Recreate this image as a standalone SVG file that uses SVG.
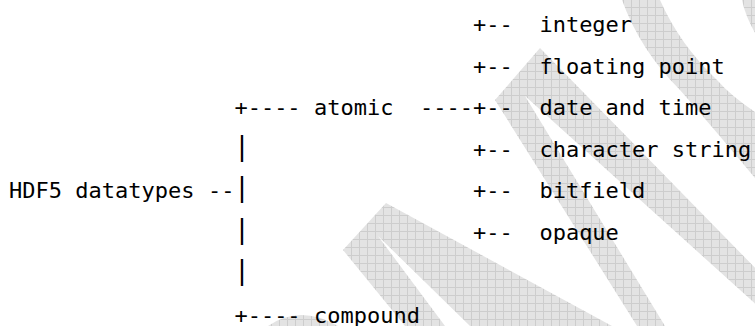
<svg xmlns="http://www.w3.org/2000/svg" width="755" height="326" viewBox="0 0 755 326">
<defs>
<pattern id="grid" width="8" height="8" patternUnits="userSpaceOnUse">
<rect width="8" height="8" fill="#e3e3e3"/>
<path d="M7.5 0V8M0 7.5H8" stroke="#cdcdcd" stroke-width="1"/>
</pattern>
</defs>
<style>
.t{font-family:"DejaVu Sans Mono","Liberation Mono",monospace;font-size:22px;fill:#000;white-space:pre}
.bar{font-family:"DejaVu Sans Mono","Liberation Mono",monospace;font-size:26.5px;fill:#000}
.wm{fill:url(#grid)}
</style>
<rect width="755" height="326" fill="#fff"/>
<g id="watermark">
<path class="wm" d="M343,250 L386,203 L612,326 L470,326 L378,236 L445,326 L405,326 Z"/>
<path class="wm" d="M540,48 L495,100 L637,326 L665,326 L525,96 L780,326 L812,326 Z"/>
<path class="wm" d="M622,0 Q640,50 680,90 Q715,130 755,178 L755,112 Q730,95 717,80 Q680,45 660,0 Z"/>
<path class="wm" d="M742,0 L755,0 L755,33 Q745,15 742,0 Z"/>
<path class="wm" d="M268,326 Q300,304 338,326 Z"/>
</g>
<g id="connectors">
<text class="t" x="473.1" y="32">+--</text>
<text class="t" x="473.1" y="73.5">+--</text>
<text class="t" x="234.4" y="115">+----</text>
<text class="t" x="420.1" y="115">----+--</text>
<text class="bar" x="234" y="154.5">|</text>
<text class="t" x="473.1" y="156.5">+--</text>
<text class="t" x="207.9" y="198">--</text>
<text class="bar" x="234" y="196">|</text>
<text class="t" x="473.1" y="198">+--</text>
<text class="bar" x="234" y="237.5">|</text>
<text class="t" x="473.1" y="239.5">+--</text>
<text class="bar" x="234" y="279">|</text>
<text class="t" x="234.4" y="322.5">+----</text>
</g>
<g id="root"><text class="t" x="9" y="198">HDF5 datatypes</text></g>
<g id="atomic"><text class="t" x="314" y="115">atomic</text></g>
<g id="compound"><text class="t" x="314" y="322.5">compound</text></g>
<g id="integer"><text class="t" x="539.4" y="32">integer</text></g>
<g id="floating-point"><text class="t" x="539.4" y="73.5">floating point</text></g>
<g id="date-and-time"><text class="t" x="539.4" y="115">date and time</text></g>
<g id="character-string"><text class="t" x="539.4" y="156.5">character string</text></g>
<g id="bitfield"><text class="t" x="539.4" y="198">bitfield</text></g>
<g id="opaque"><text class="t" x="539.4" y="239.5">opaque</text></g>
</svg>
